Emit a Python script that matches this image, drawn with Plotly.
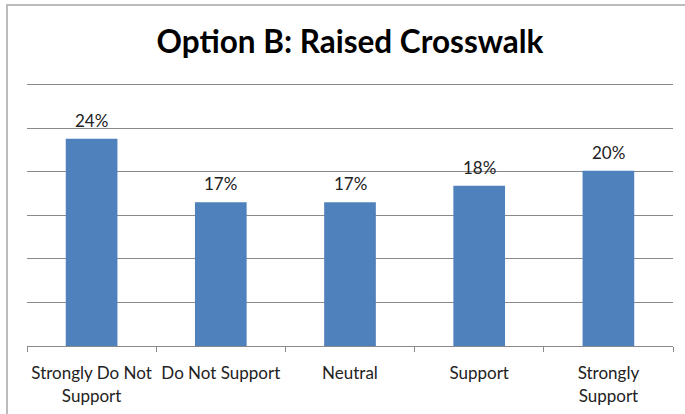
import plotly.graph_objects as go

categories = ["Strongly Do Not<br>Support", "Do Not Support", "Neutral", "Support", "Strongly<br>Support"]
values = [0.238, 0.165, 0.165, 0.184, 0.201]
value_labels = ["24%", "17%", "17%", "18%", "20%"]
title_text = "Option B: Raised Crosswalk"

W, H = 685, 414
YMAX = 0.303
ml, mr, mb = 27, 12, 68
ph = round((H - mb - 85) * YMAX / 0.30)
mt = H - mb - ph
pw = W - ml - mr
FONT = "Lato"
TXT = "#222222"

fig = go.Figure(go.Bar(
    x=categories, y=values,
    marker=dict(color="#4F81BD", line=dict(width=0)),
    cliponaxis=False, hoverinfo="skip",
))

for c, v, lab in zip(categories, values, value_labels):
    fig.add_annotation(x=c, y=v, text=lab, showarrow=False, yanchor="bottom", yshift=6,
                       font=dict(family=FONT, size=17, color=TXT))

# outer chart border (top and left visible)
bx0 = (7 - ml) / pw
by1 = (H - 5 - mb) / ph
fig.add_shape(type="rect", xref="paper", yref="paper", x0=bx0, x1=(W + 20 - ml) / pw,
              y0=-(mb + 20) / ph, y1=by1, line=dict(color="#A6A6A6", width=1.5))

fig.update_layout(
    width=W, height=H, margin=dict(l=ml, r=mr, t=mt, b=mb, autoexpand=False),
    paper_bgcolor="white", plot_bgcolor="white",
    bargap=0.6, showlegend=False,
    title=dict(text="<b>" + title_text + "</b>", xref="paper", x=0.5, xanchor="center",
               y=1 - 42 / H, yanchor="middle",
               font=dict(family=FONT, size=31.5, color="black")),
    font=dict(family=FONT, size=17, color=TXT),
)
fig.update_xaxes(showline=True, linecolor="#898989", linewidth=1, ticks="outside", tickson="boundaries",
                 ticklen=5, tickcolor="#898989", showgrid=False, automargin=False, ticklabelstandoff=12,
                 tickangle=0, tickfont=dict(size=17, family=FONT, color=TXT))
fig.update_yaxes(range=[0, YMAX], dtick=0.05, showticklabels=False, showgrid=True, gridcolor="#898989",
                 gridwidth=1, zeroline=False, showline=False, automargin=False)

fig.write_html("out.html", config={"displayModeBar": False},
               post_script="document.body.style.margin='0';document.body.style.padding='0';")
